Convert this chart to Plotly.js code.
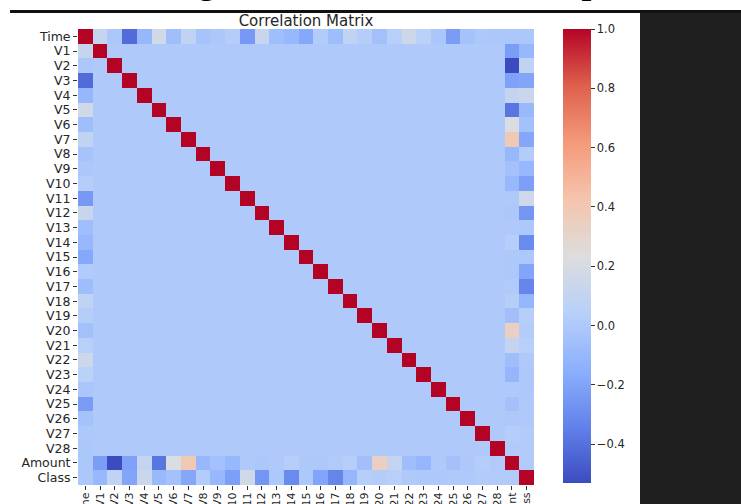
<!DOCTYPE html>
<html>
<head>
<meta charset="utf-8">
<script src="https://cdn.plot.ly/plotly-3.0.1.min.js"></script>
<style>
  html, body { margin: 0; padding: 0; background: #ffffff; }
  #chart { width: 741px; height: 504px; }
</style>
</head>
<body>
<div id="chart"></div>
<script>
// Variable names (rows / columns of the correlation matrix)
const labels = ["Time","V1","V2","V3","V4","V5","V6","V7","V8","V9","V10",
  "V11","V12","V13","V14","V15","V16","V17","V18","V19","V20",
  "V21","V22","V23","V24","V25","V26","V27","V28","Amount","Class"];

// Correlation of Time with V1..V28, Amount, Class
const timeCorr = [0.117, -0.011, -0.420, -0.105, 0.173, -0.063, 0.085, -0.037, -0.009, 0.031,
  -0.248, 0.124, -0.066, -0.099, -0.183, 0.012, -0.073, 0.090, 0.029, -0.051,
  0.045, 0.144, 0.051, -0.016, -0.233, -0.041, -0.005, -0.009, -0.011, -0.012];

// Correlation of Amount with V1..V28, Class
const amountCorr = [-0.228, -0.531, -0.211, 0.099, -0.386, 0.216, 0.397, -0.103, -0.044, -0.102,
  0.000, -0.010, 0.005, 0.034, -0.003, -0.004, 0.007, 0.036, -0.056, 0.339,
  0.106, -0.065, -0.113, 0.005, -0.048, -0.003, 0.029, 0.010, 0.006];

// Correlation of Class with V1..V28
const classCorr = [-0.101, 0.091, -0.193, 0.133, -0.095, -0.044, -0.187, 0.020, -0.098, -0.217,
  0.155, -0.261, -0.005, -0.303, -0.004, -0.197, -0.327, -0.111, 0.035, 0.020,
  0.040, 0.001, -0.003, -0.007, 0.003, 0.004, 0.018, 0.010];

// Correlation among the PCA components V1..V28 (off-diagonal, all read as ~0)
const pcaCrossCorr = 0.0;

// Colour bar tick values
const cbTicks = [-0.4, -0.2, 0.0, 0.2, 0.4, 0.6, 0.8, 1.0];

// Heading text above the figure (only its descenders are visible)
const headingText = "Plotting the Correlation Heatmap";
const chartTitle = "Correlation Matrix";

// ---- build the symmetric matrix from the named arrays ----
const n = labels.length;
const iAmount = n - 2, iClass = n - 1;
const z = [];
for (let i = 0; i < n; i++) {
  const row = [];
  for (let j = 0; j < n; j++) row.push(i === j ? 1 : pcaCrossCorr);
  z.push(row);
}
function setPair(i, j, v) { z[i][j] = v; z[j][i] = v; }
for (let k = 0; k < timeCorr.length; k++) setPair(0, k + 1, timeCorr[k]);
for (let k = 0; k < amountCorr.length; k++) {
  const j = k < 28 ? k + 1 : iClass;
  setPair(iAmount, j, amountCorr[k]);
}
for (let k = 0; k < classCorr.length; k++) setPair(iClass, k + 1, classCorr[k]);

let zmin = Infinity, zmax = -Infinity;
z.forEach(r => r.forEach(v => { zmin = Math.min(zmin, v); zmax = Math.max(zmax, v); }));

// matplotlib "coolwarm"
const coolwarm = [
  [0.000, "rgb(59,76,192)"],
  [0.125, "rgb(98,130,234)"],
  [0.250, "rgb(141,176,254)"],
  [0.375, "rgb(184,208,249)"],
  [0.500, "rgb(221,221,221)"],
  [0.625, "rgb(245,196,173)"],
  [0.750, "rgb(244,154,123)"],
  [0.875, "rgb(222,96,77)"],
  [1.000, "rgb(180,4,38)"]
];

// ---- pixel geometry helpers ----
const W = 741, H = 504;
const L = 78, R = 534, T = 29, B = 485;
const px = x => (x - L) / (R - L);
const py = y => (B - y) / (B - T);

const trace = {
  type: "heatmap",
  z: z,
  x: labels,
  y: labels,
  zmin: zmin,
  zmax: zmax,
  colorscale: coolwarm,
  xgap: 0, ygap: 0,
  hoverongaps: false,
  colorbar: {
    x: px(563), xanchor: "left", xpad: 0,
    y: py(256), yanchor: "middle", ypad: 0,
    thickness: 28, thicknessmode: "pixels",
    len: 454, lenmode: "pixels",
    outlinewidth: 0,
    tickmode: "array",
    tickvals: cbTicks,
    ticktext: cbTicks.map(v => (v < 0 ? "\u2212" : "") + Math.abs(v).toFixed(1)),
    ticks: "outside", ticklen: 4, tickwidth: 1, tickcolor: "#333",
    tickfont: { family: "DejaVu Sans", size: 11.5, color: "#262626" }
  }
};

const layout = {
  width: W, height: H,
  margin: { l: L, r: W - R, t: T, b: H - B, pad: 0 },
  paper_bgcolor: "#ffffff",
  plot_bgcolor: "#ffffff",
  font: { family: "DejaVu Sans", color: "#262626" },
  title: {
    text: chartTitle,
    font: { family: "DejaVu Sans", size: 15, color: "#262626" },
    x: 0.5, xref: "paper", xanchor: "center",
    y: 1 - 20.5 / H, yref: "container", yanchor: "middle"
  },
  xaxis: {
    type: "category",
    tickmode: "array", tickvals: labels, ticktext: labels,
    tickangle: -90,
    ticks: "outside", ticklen: 4, tickwidth: 1, tickcolor: "#333",
    ticklabelstandoff: -2,
    tickfont: { family: "DejaVu Sans", size: 11, color: "#262626" },
    showgrid: false, zeroline: false, showline: false,
    automargin: false, fixedrange: true
  },
  yaxis: {
    type: "category",
    autorange: "reversed",
    tickmode: "array", tickvals: labels, ticktext: labels,
    ticks: "outside", ticklen: 4, tickwidth: 1, tickcolor: "#333",
    tickfont: { family: "DejaVu Sans", size: 12.5, color: "#262626" },
    showgrid: false, zeroline: false, showline: false,
    automargin: false, fixedrange: true
  },
  shapes: [
    { type: "rect", xref: "paper", yref: "paper", layer: "above",
      x0: px(640), x1: px(745), y0: py(13), y1: py(510),
      fillcolor: "#1f1f1f", line: { width: 0 } },
    { type: "line", xref: "paper", yref: "paper", layer: "above",
      x0: px(10), x1: px(745), y0: py(11.5), y1: py(11.5),
      line: { color: "#111111", width: 3 } }
  ],
  annotations: [
    { text: "<b>" + headingText + "</b>", showarrow: false,
      xref: "paper", yref: "paper",
      x: px(95), xanchor: "left",
      y: py(3.5), yanchor: "bottom",
      font: { family: "Liberation Serif", size: 35, color: "#000000" } }
  ]
};

Plotly.newPlot("chart", [trace], layout, { displayModeBar: false, staticPlot: true });
</script>
</body>
</html>
